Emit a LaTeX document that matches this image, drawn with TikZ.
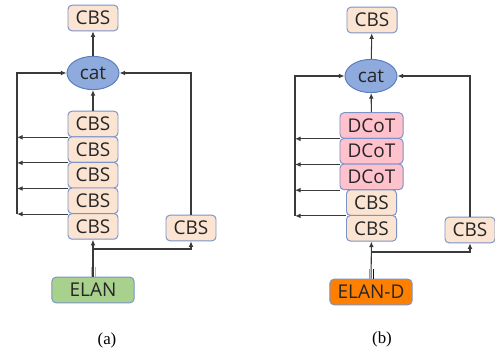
\documentclass[tikz,border=0pt]{standalone}
\usepackage{fontspec}
\setmainfont{Liberation Serif}
\newfontfamily\boxfont{Open Sans}
\usetikzlibrary{arrows.meta, shapes.geometric}

\definecolor{cbsfill}{HTML}{FCE4D2}
\definecolor{boxline}{HTML}{7A93C9}
\definecolor{catfill}{HTML}{8FAADC}
\definecolor{catline}{HTML}{5A7EC0}
\definecolor{dcotfill}{HTML}{FFC2CC}
\definecolor{elanfill}{HTML}{A9D18E}
\definecolor{elandfill}{HTML}{FF8000}
\definecolor{wire}{HTML}{3A3A3A}

\tikzset{
  blk/.style={draw=boxline, line width=0.7pt, rounded corners=0.1cm, inner sep=0pt,
    minimum height=0.64cm, font=\boxfont\fontsize{13.5}{15}\selectfont, text=black!85},
  cbs/.style={blk, fill=cbsfill, minimum width=1.25cm},
  dcot/.style={blk, fill=dcotfill, minimum width=1.575cm},
  elan/.style={blk, minimum width=2.05cm},
  catn/.style={ellipse, draw=catline, line width=0.7pt, fill=catfill, inner sep=0pt,
    minimum width=1.3cm, minimum height=0.83cm, font=\boxfont\fontsize{13.5}{15}\selectfont, text=black!85},
  wirel/.style={draw=wire, line width=0.75pt},
  arr/.style={wirel, -{Latex[length=1.4mm,width=1.2mm]}},
}

\begin{document}
\begin{tikzpicture}[x=0.025cm, y=-0.025cm]
    \useasboundingbox (0,0) rectangle (495,353);

    % (a)
    \node[cbs] (a0) at (93,18) {CBS};
    \node[catn] (acat) at (93,73) {cat};
    \foreach \i/\y in {1/124,2/149.6,3/175.2,4/200.8,5/226.4}
        \node[cbs] (a\i) at (93,\y) {CBS};
    \node[cbs] (ar) at (191,228) {CBS};
    \node[elan, fill=elanfill] (ae) at (93,290) {ELAN};
    \coordinate (aL) at (17,0);
    \coordinate (ab) at (93,249);

    \draw[arr] (acat) -- (a0);
    \draw[arr] (a1) -- (acat);
    \foreach \i in {1,...,4}
        \draw[arr] (a\i.south west) -- (a\i.south west -| aL);
    \draw[arr] (a4.south -| aL) |- (acat.west);
    \draw[arr] (ar.north) |- (acat.east);
    \draw[arr] (ae) -- (a5);
    \draw[arr] (ab) -| (ar.south);
    \draw[orange!60!yellow, line width=0.6pt] ([xshift=-0.05cm]ae.north) -- ++(0,-10);
    \draw[orange!60!yellow, line width=0.6pt] ([xshift=0.05cm]ae.north) -- ++(0,-10);
    \node (capa) at (107,340) {\fontsize{12}{14}\selectfont(a)};

    % (b)
    \node[cbs] (b0) at (372,20) {CBS};
    \node[catn] (bcat) at (371,76) {cat};
    \foreach \i/\y in {1/125.5,2/151.2,3/176.9}
        \node[dcot] (b\i) at (371.5,\y) {DCoT};
    \foreach \i/\y in {4/202.6,5/228.3}
        \node[cbs] (b\i) at (371.5,\y) {CBS};
    \node[cbs] (br) at (470,230) {CBS};
    \node[elan, fill=elandfill] (be) at (371,292) {ELAN-D};
    \coordinate (bL) at (295,0);
    \coordinate (bb) at (371,252);

    \draw[arr] (bcat) -- (b0);
    \draw[arr] (b1) -- (bcat);
    \foreach \i in {1,...,4}
        \draw[arr] (b\i.south west) -- (b\i.south west -| bL);
    \draw[arr] (b4.south -| bL) |- (bcat.west);
    \draw[arr] (br.north) |- (bcat.east);
    \draw[arr] (be) -- (b5);
    \draw[arr] (bb) -| (br.south);
    \draw[orange, line width=0.6pt] ([xshift=-0.05cm]be.north) -- ++(0,-10);
    \draw[blue!60!black, line width=0.6pt] ([xshift=0.05cm]be.north) -- ++(0,-10);
    \node (capb) at (382,339) {\fontsize{12}{14}\selectfont(b)};
\end{tikzpicture}
\end{document}
